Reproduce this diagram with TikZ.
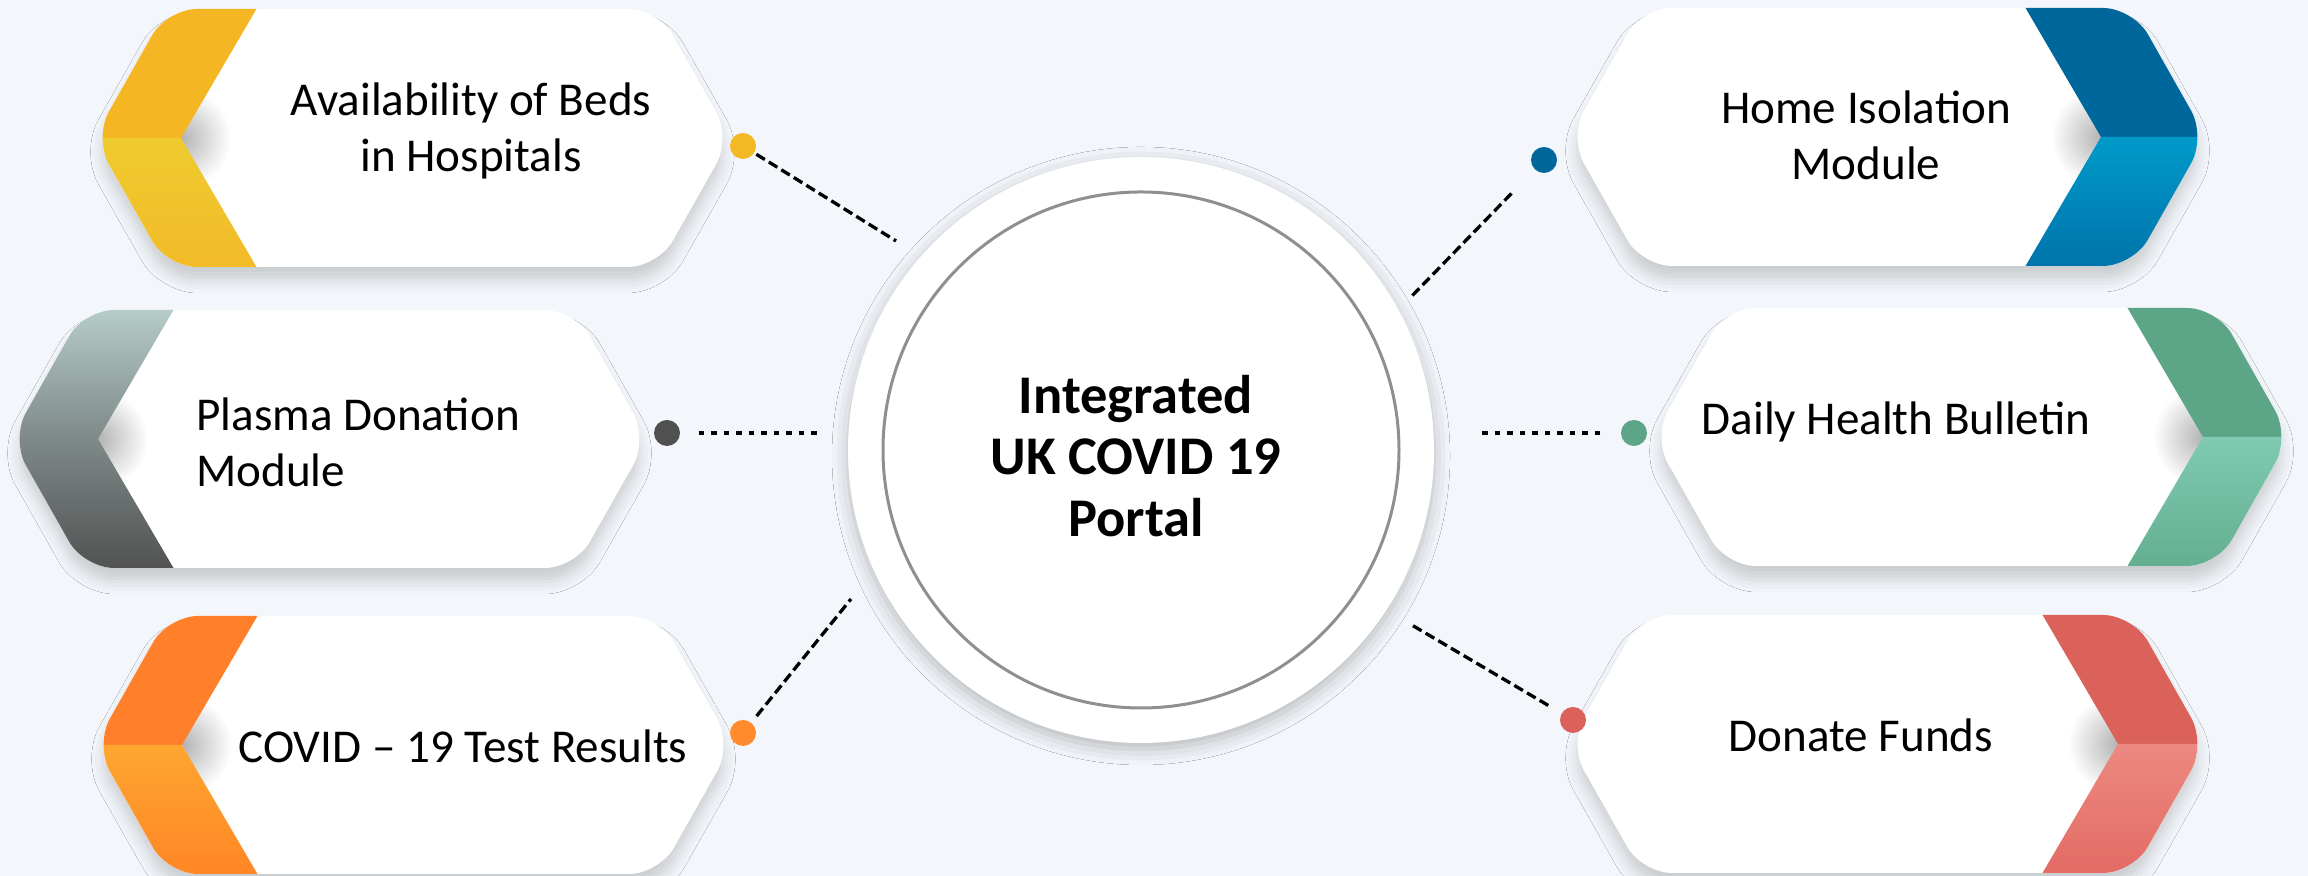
\documentclass[tikz,border=0pt]{standalone}
\usepackage{fontspec}
\setmainfont{Carlito}
\usepackage{tikz}
\usetikzlibrary{shadows.blur,positioning}

\definecolor{bgc}{HTML}{F3F6FA}
\definecolor{ringc}{HTML}{8F8F8F}
\definecolor{yelA}{HTML}{F5B624}
\definecolor{yelB}{HTML}{EECB2F}
\definecolor{yelC}{HTML}{F2BA27}
\definecolor{grayA}{HTML}{B7CFCB}
\definecolor{grayB}{HTML}{7E8988}
\definecolor{grayC}{HTML}{505050}
\definecolor{oraA}{HTML}{FF7F2A}
\definecolor{oraB}{HTML}{FFA630}
\definecolor{oraC}{HTML}{FF8525}
\definecolor{bluA}{HTML}{00679C}
\definecolor{bluB}{HTML}{009ACA}
\definecolor{bluC}{HTML}{0072A9}
\definecolor{grnA}{HTML}{5CA586}
\definecolor{grnB}{HTML}{80CAB3}
\definecolor{grnC}{HTML}{63AD8F}
\definecolor{redA}{HTML}{DB625B}
\definecolor{redB}{HTML}{EC8980}
\definecolor{redC}{HTML}{E36A63}

% hexagon card: #1 placement, #2/#3 upper band, #4/#5 lower band, #6 band width
\newcommand{\hexcard}[6]{%
  \begin{scope}[#1]
    \fill[white,rounded corners=0.3cm,blur shadow={shadow xshift=0cm,shadow yshift=-0.14cm,shadow blur radius=0.12cm,shadow opacity=16}]
      (0,0) -- (0.73,1.29) -- (5.64,1.29) -- (6.37,0) -- (5.64,-1.29) -- (0.73,-1.29) -- cycle;
    \begin{scope}
      \clip[rounded corners=0.3cm]
        (0,0) -- (0.73,1.29) -- (5.64,1.29) -- (6.37,0) -- (5.64,-1.29) -- (0.73,-1.29) -- cycle;
      \shade[inner color=black!30,outer color=white] (#6,0) circle (0.5);
      \shade[top color=#2,bottom color=#3] (-0.1,0) -- (-0.1,1.35) -- ({#6+0.79},1.35) -- (#6,0) -- cycle;
      \shade[top color=#4,bottom color=#5] (-0.1,0) -- (-0.1,-1.35) -- ({#6+0.79},-1.35) -- (#6,0) -- cycle;
    \end{scope}
  \end{scope}}

\begin{document}
\begin{tikzpicture}[
  hub/.style={circle,fill=white,minimum size=5.86cm,inner sep=0pt,
    blur shadow={shadow xshift=0cm,shadow yshift=-0.06cm,shadow blur radius=0.16cm,shadow opacity=25}},
  ring/.style={circle,draw=ringc,line width=0.85pt,minimum size=5.16cm,inner sep=0pt},
  title/.style={align=center,font=\fontsize{15.5}{17.6}\selectfont\bfseries},
  lbl/.style={align=center,font=\fontsize{13.4}{15.9}\selectfont},
  dot/.style={circle,fill=#1,minimum size=0.26cm,inner sep=0pt},
  dashln/.style={dash pattern=on 0.1cm off 0.047cm,line width=0.033cm},
  dotln/.style={dash pattern=on 0.055cm off 0.07cm,line width=0.045cm}
]
  \fill[bgc] (0,0) rectangle (23.08,8.76);
  \useasboundingbox (0,0) rectangle (23.08,8.76);

  % cards
  \hexcard{shift={(0.94,7.38)}}{yelA}{yelA}{yelB}{yelC}{0.87}
  \hexcard{shift={(0.11,4.37)}}{grayA}{grayB}{grayB}{grayC}{0.87}
  \hexcard{shift={(0.95,1.31)}}{oraA}{oraA}{oraB}{oraC}{0.87}
  \hexcard{shift={(22.06,7.39)},xscale=-1}{bluA}{bluA}{bluB}{bluC}{1.05}
  \hexcard{shift={(22.90,4.39)},xscale=-1}{grnA}{grnA}{grnB}{grnC}{0.87}
  \hexcard{shift={(22.06,1.32)},xscale=-1}{redA}{redA}{redB}{redC}{0.88}

  \node[lbl] (beds) at (4.71,7.45) {Availability of Beds\\in Hospitals};
  \node[lbl,align=left,anchor=west] (plasma) at (1.84,4.34) {Plasma Donation\\Module};
  \node[lbl] (test) at (4.63,1.30) {COVID -- 19 Test Results};
  \node[lbl] (home) at (18.66,7.41) {Home Isolation\\Module};
  \node[lbl] (bull) at (18.96,4.54) {Daily Health Bulletin};
  \node[lbl] (fund) at (18.61,1.41) {Donate Funds};

  % centre
  \node[hub] (hub) at (11.41,4.26) {};
  \node[ring] (rim) at (hub.center) {};
  \node[title] (portal) at (11.36,4.20) {Integrated\\UK COVID 19\\Portal};

  \node[dot=yelA!90!yelB] (dBeds) at (7.43,7.30) {};
  \node[dot=grayC] (dPlasma) at (6.67,4.43) {};
  \node[dot=oraA!70!oraB] (dTest) at (7.43,1.43) {};
  \node[dot=bluA] (dHome) at (15.44,7.16) {};
  \node[dot=grnA] (dBull) at (16.34,4.43) {};
  \node[dot=redA] (dFund) at (15.73,1.56) {};

  \coordinate (eBeds) at (8.96,6.35);
  \coordinate (ePlasma) at (8.21,4.43);
  \coordinate (eTest) at (8.51,2.77);
  \coordinate (eHome) at (14.10,5.78);
  \coordinate (eBull) at (14.78,4.43);
  \coordinate (eFund) at (14.10,2.52);

  \draw[dashln,shorten <=0.02cm] (dBeds) -- (eBeds);
  \draw[dotln,shorten <=0.18cm] (dPlasma) -- (ePlasma);
  \draw[dashln,shorten <=0.08cm] (dTest) -- (eTest);
  \draw[dashln,shorten <=0.33cm] (dHome) -- (eHome);
  \draw[dotln,shorten <=0.2cm] (dBull) -- (eBull);
  \draw[dashln,shorten <=0.15cm] (dFund) -- (eFund);
\end{tikzpicture}
\end{document}
